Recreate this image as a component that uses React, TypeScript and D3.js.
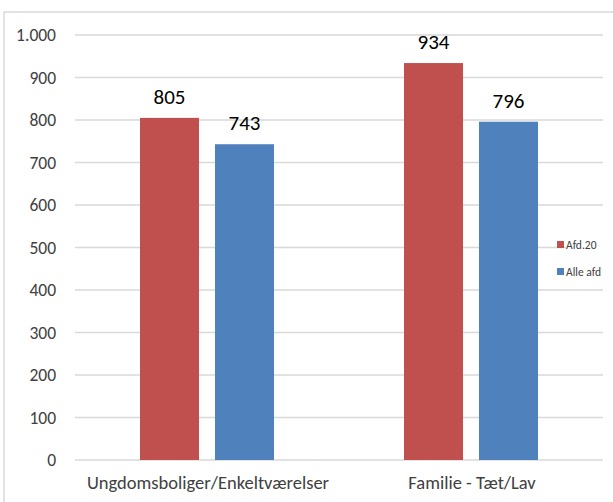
import React, { useRef, useEffect } from 'react';
import * as d3 from 'd3';

const categories = ['Ungdomsboliger/Enkeltværelser', 'Familie - Tæt/Lav'];
const seriesNames = ['Afd.20', 'Alle afd'];
const afd20 = [805, 934];
const alleAfd = [743, 796];
const yTicks = [0, 100, 200, 300, 400, 500, 600, 700, 800, 900, 1000];
const colors = ['#C0504D', '#4F81BD'];

const App = () => {
  const svgRef = useRef<SVGSVGElement>(null);

  useEffect(() => {
    if (!svgRef.current) return;
    const svg = d3.select(svgRef.current);
    svg.selectAll('*').remove();

    const width = 613;
    const height = 502;
    const font = 'Carlito, Calibri, Lato, "Open Sans", sans-serif';

    svg.attr('width', width).attr('height', height).style('background', '#fff');

    // ramme
    svg.append('path')
      .attr('d', `M4,${height} V12 H${width}`)
      .attr('fill', 'none')
      .attr('stroke', '#d9d9d9')
      .attr('stroke-width', 1.5);

    const x0 = d3.scaleBand().domain(categories).range([75, 603]).padding(0);
    const x1 = d3.scaleBand()
      .domain(seriesNames)
      .range([0, x0.bandwidth()])
      .paddingInner(0.213)
      .paddingOuter(0.867);
    const y = d3.scaleLinear().domain([0, 1000]).range([460, 35]);

    // gitterlinjer
    svg.append('g')
      .selectAll('line')
      .data(yTicks)
      .enter()
      .append('line')
      .attr('x1', 75)
      .attr('x2', 603)
      .attr('y1', d => y(d))
      .attr('y2', d => y(d))
      .attr('stroke', '#d9d9d9')
      .attr('stroke-width', 1.5);

    svg.append('g')
      .selectAll('text')
      .data(yTicks)
      .enter()
      .append('text')
      .attr('x', 56)
      .attr('y', d => y(d))
      .attr('dy', '0.35em')
      .attr('text-anchor', 'end')
      .attr('font-family', font)
      .attr('font-size', 17.5)
      .attr('fill', '#404040')
      .text(d => d3.format(',')(d).replace(/,/g, '.'));

    const series = [afd20, alleAfd];
    series.forEach((vals, si) => {
      const g = svg.append('g');
      g.selectAll('rect')
        .data(vals)
        .enter()
        .append('rect')
        .attr('x', (d, i) => x0(categories[i])! + x1(seriesNames[si])!)
        .attr('y', d => y(d))
        .attr('width', x1.bandwidth())
        .attr('height', d => y(0) - y(d))
        .attr('fill', colors[si]);
      g.selectAll('text')
        .data(vals)
        .enter()
        .append('text')
        .attr('x', (d, i) => x0(categories[i])! + x1(seriesNames[si])! + x1.bandwidth() / 2)
        .attr('y', d => y(d) - 14)
        .attr('text-anchor', 'middle')
        .attr('font-family', font)
        .attr('font-size', 21)
        .attr('fill', '#000')
        .text(d => d);
    });

    // kategorier
    svg.append('g')
      .selectAll('text')
      .data(categories)
      .enter()
      .append('text')
      .attr('x', d => x0(d)! + x0.bandwidth() / 2 + 1)
      .attr('y', 489)
      .attr('text-anchor', 'middle')
      .attr('font-family', font)
      .attr('font-size', 18.5)
      .attr('fill', '#404040')
      .text(d => d);

    // legende
    const legend = svg.append('g').attr('transform', 'translate(557,245)');
    seriesNames.forEach((name, i) => {
      const row = legend.append('g').attr('transform', `translate(0,${i * 27})`);
      row.append('rect')
        .attr('x', 0)
        .attr('y', -4)
        .attr('width', 7)
        .attr('height', 7)
        .attr('fill', colors[i]);
      row.append('rect')
        .attr('x', 9)
        .attr('y', -8)
        .attr('width', 48)
        .attr('height', 15)
        .attr('fill', '#fff');
      row.append('text')
        .attr('x', 9)
        .attr('y', 0)
        .attr('dy', '0.35em')
        .attr('font-family', font)
        .attr('font-size', 11.5)
        .attr('fill', '#404040')
        .text(name);
    });
  }, []);

  return (
    <div style={{ position: 'absolute', left: 0, top: 0 }}>
      <svg ref={svgRef}></svg>
    </div>
  );
};

export default App;
